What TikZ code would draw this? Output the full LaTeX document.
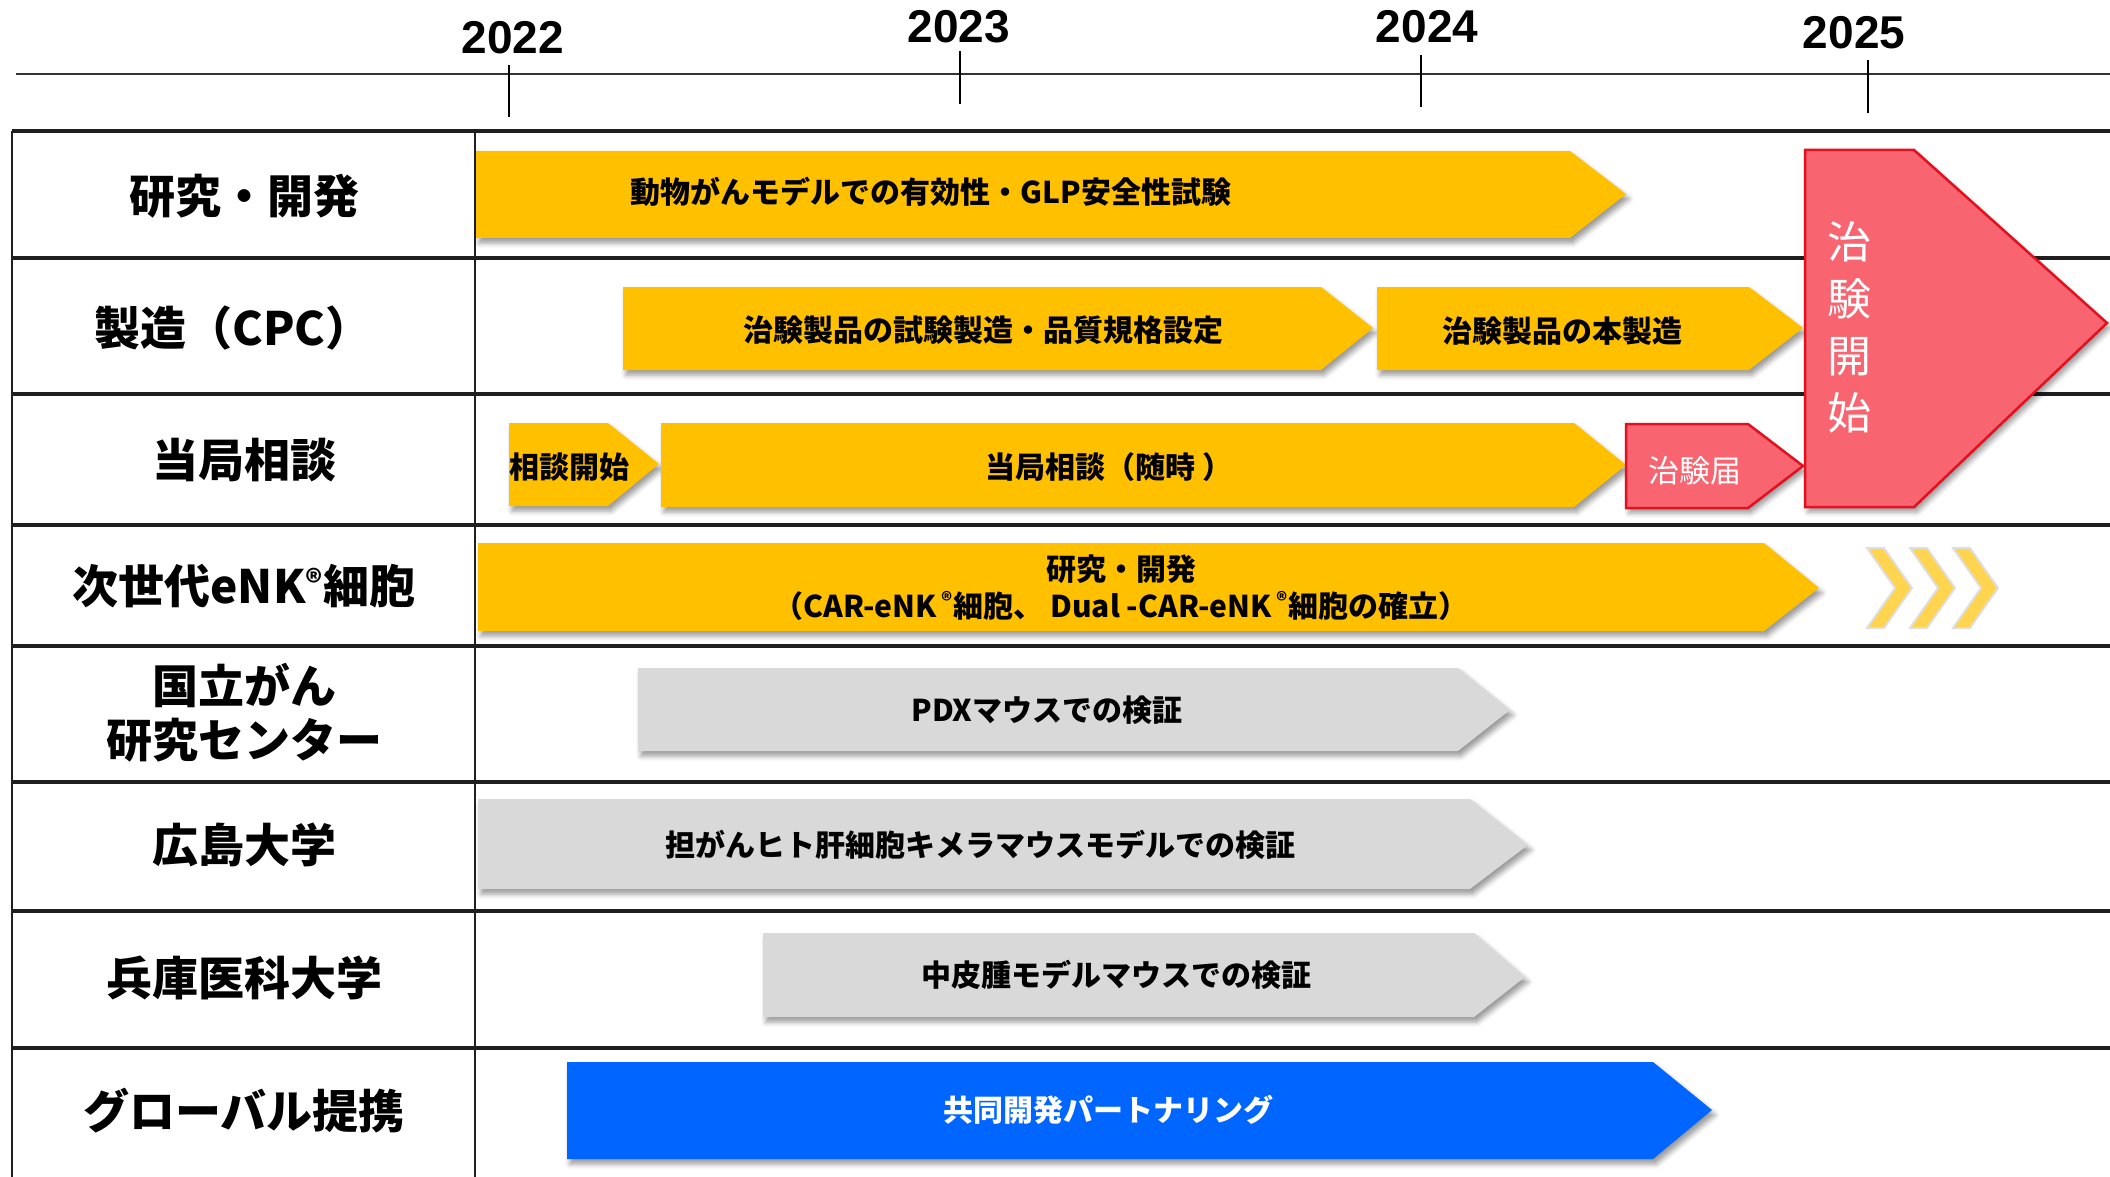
\documentclass[tikz,border=0pt]{standalone}
\usepackage{fontspec}
\setmainfont{Noto Sans CJK JP}
\newfontfamily\yearfont{Liberation Sans}
\usepackage{tikz}
\usetikzlibrary{shadows.blur}
\definecolor{barYellow}{HTML}{FFC000}
\definecolor{barGray}{HTML}{D9D9D9}
\definecolor{barBlue}{HTML}{0066FF}
\definecolor{trialRed}{HTML}{F8646F}
\definecolor{trialEdge}{HTML}{E3101F}
\definecolor{chevYellow}{HTML}{FFD44F}

\begin{document}
\begin{tikzpicture}[x=1pt, y=-1pt,
      every node/.append style={inner sep=0pt, align=center},
      bar/.style={blur shadow={shadow xshift=3pt, shadow yshift=-5pt,
        shadow blur radius=5pt, shadow opacity=40}}]
    \tikzstyle{year} = [font=\yearfont\fontsize{46}{50}\selectfont\bfseries, color=black]
    \tikzstyle{rowname} = [font=\fontsize{46}{54}\selectfont\bfseries, color=black]
    \tikzstyle{bartext} = [font=\fontsize{30}{37}\selectfont\bfseries, color=black]
    \tikzstyle{rowline} = [line width=3.5pt, color=black!88]
    \tikzstyle{colline} = [line width=2pt, color=black!88]
    \useasboundingbox (0,0) rectangle (2110,1177);
    % time axis
    \draw[line width=2pt, black!80] (16,74) -- (2110,74);
    \node (y2022) [year] at (513,38) {2022};
    \node (y2023) [year] at (959,27) {2023};
    \node (y2024) [year] at (1427,27) {2024};
    \node (y2025) [year] at (1854,33) {2025};
    \draw[line width=1.2pt] (509,65) -- (509,117);
    \draw[line width=1.2pt] (960,51) -- (960,104);
    \draw[line width=1.2pt] (1421,55) -- (1421,107);
    \draw[line width=1.2pt] (1868,60) -- (1868,113);
    % table
    \draw[rowline] (12,131) -- (2110,131);
    \draw[rowline] (12,258) -- (2110,258);
    \draw[rowline] (12,394) -- (2110,394);
    \draw[rowline] (12,525) -- (2110,525);
    \draw[rowline] (12,646) -- (2110,646);
    \draw[rowline] (12,782) -- (2110,782);
    \draw[rowline] (12,911) -- (2110,911);
    \draw[rowline] (12,1048) -- (2110,1048);
    \draw[colline] (12,131) -- (12,1177);
    \draw[colline] (475,131) -- (475,1177);
    \node (research) [rowname] at (244,196) {研究・開発};
    \node (cpc) [rowname] at (233,328) {製造（CPC）};
    \node (authority) [rowname] at (244,460) {当局相談};
    \node (nextgen) [rowname] at (244,586) {次世代eNK\textsuperscript{®}細胞};
    \node (ncc) [rowname] at (244,713) {国立がん\\研究センター};
    \node (hiroshima) [rowname] at (244,845) {広島大学};
    \node (hyogo) [rowname] at (244,978) {兵庫医科大学};
    \node (global) [rowname] at (244,1111) {グローバル提携};
    % yellow phases
    \fill[barYellow, bar] (476,151) -- (1570,151) -- (1626,194) -- (1570,238) -- (476,238) -- cycle;
    \node (efficacy) [bartext] at (931,192) {動物がんモデルでの有効性・GLP安全性試験};
    \fill[barYellow, bar] (623,287) -- (1321,287) -- (1373,328) -- (1321,370) -- (623,370) -- cycle;
    \node (trialmake) [bartext] at (983,330) {治験製品の試験製造・品質規格設定};
    \fill[barYellow, bar] (1377,287) -- (1749,287) -- (1803,328) -- (1749,370) -- (1377,370) -- cycle;
    \node (mainmake) [bartext] at (1562,331) {治験製品の本製造};
    \fill[barYellow, bar] (509,423) -- (608,423) -- (659,464) -- (608,506) -- (509,506) -- cycle;
    \node (consultstart) [bartext] at (569,467) {相談開始};
    \fill[barYellow, bar] (661,423) -- (1574,423) -- (1626,465) -- (1574,507) -- (661,507) -- cycle;
    \node (consult) [bartext] at (1109,467) {当局相談（随時 ）};
    \fill[barYellow, bar] (478,543) -- (1764,543) -- (1819,588) -- (1764,631) -- (478,631) -- cycle;
    \node (enkdev) [bartext] at (1121,588)
      {研究・開発\\（CAR-eNK\,\textsuperscript{®}細胞、 Dual -CAR-eNK\,\textsuperscript{®}細胞の確立）};
    % continuation chevrons
    \filldraw[fill=chevYellow, draw=black!13, line width=2pt]
      (1867,548) -- (1884,548) -- (1912,588) -- (1884,628) -- (1867,628) -- (1895,588) -- cycle;
    \filldraw[fill=chevYellow, draw=black!13, line width=2pt]
      (1910,548) -- (1927,548) -- (1955,588) -- (1927,628) -- (1910,628) -- (1938,588) -- cycle;
    \filldraw[fill=chevYellow, draw=black!13, line width=2pt]
      (1953,548) -- (1970,548) -- (1998,588) -- (1970,628) -- (1953,628) -- (1981,588) -- cycle;
    % red milestones
    \filldraw[fill=trialRed, draw=trialEdge, line width=2.5pt, bar]
      (1626,424) -- (1748,424) -- (1803,466) -- (1748,508) -- (1626,508) -- cycle;
    \node (notice) [font=\fontsize{31}{37}\selectfont, color=white] at (1695,471) {治験届};
    \filldraw[fill=trialRed, draw=trialEdge, line width=2.5pt, bar]
      (1805,150) -- (1914,150) -- (2107,323) -- (1914,507) -- (1805,507) -- cycle;
    \node (trialstart) [font=\fontsize{44}{57}\selectfont, color=white] at (1849,327) {治\\験\\開\\始};
    % partner validations
    \fill[barGray, bar] (638,668) -- (1458,668) -- (1510,710) -- (1458,751) -- (638,751) -- cycle;
    \node (pdx) [bartext] at (1047,710) {PDXマウスでの検証};
    \fill[barGray, bar] (478,799) -- (1470,799) -- (1528,845) -- (1470,889) -- (478,889) -- cycle;
    \node (chimera) [bartext] at (980,845) {担がんヒト肝細胞キメラマウスモデルでの検証};
    \fill[barGray, bar] (763,933) -- (1474,933) -- (1525,977) -- (1474,1017) -- (763,1017) -- cycle;
    \node (meso) [bartext] at (1116,975) {中皮腫モデルマウスでの検証};
    \fill[barBlue, bar] (567,1062) -- (1653,1062) -- (1712,1110) -- (1653,1159) -- (567,1159) -- cycle;
    \node (partnering) [bartext, color=white] at (1108,1110) {共同開発パートナリング};
\end{tikzpicture}
\end{document}
